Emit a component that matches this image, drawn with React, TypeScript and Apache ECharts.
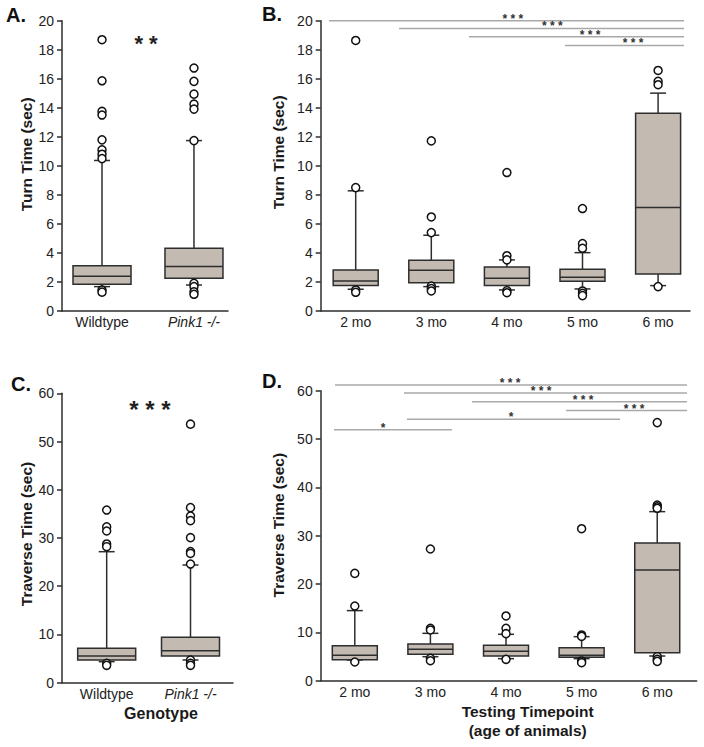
import React, { useEffect, useRef } from 'react';
import * as echarts from 'echarts';

const FONT = '"Liberation Sans", Arial, Helvetica, sans-serif';

const genotypeCategories = ['Wildtype', 'Pink1 -/-'];
const ageCategories = ['2 mo', '3 mo', '4 mo', '5 mo', '6 mo'];

// [lower whisker, Q1, median, Q3, upper whisker]
const turnGenotypeBoxes = [
  [1.68, 1.84, 2.39, 3.12, 10.37],
  [1.79, 2.25, 3.06, 4.32, 11.74],
];
const turnGenotypeOutliers = [
  [18.69, 15.86, 13.75, 13.5, 11.79, 11.1, 10.8, 10.5, 1.45, 1.3],
  [16.74, 15.82, 14.94, 14.25, 13.91, 11.74, 1.91, 1.68, 1.33, 1.15],
];

const turnAgeBoxes = [
  [1.5, 1.75, 2.07, 2.83, 8.28],
  [1.68, 1.95, 2.81, 3.5, 5.22],
  [1.45, 1.75, 2.25, 3.03, 3.52],
  [1.52, 2.05, 2.32, 2.87, 4.02],
  [1.75, 2.55, 7.13, 13.63, 15.01],
];
const turnAgeOutliers = [
  [18.64, 8.5, 1.45, 1.29],
  [11.72, 6.48, 5.4, 1.72, 1.54, 1.38],
  [9.54, 3.81, 3.52, 1.4, 1.26],
  [7.06, 4.64, 4.32, 1.38, 1.22, 1.06],
  [16.57, 15.82, 15.59, 1.68],
];

const traverseGenotypeBoxes = [
  [4.36, 4.71, 5.54, 7.13, 27.16],
  [4.71, 5.54, 6.64, 9.41, 24.4],
];
const traverseGenotypeOutliers = [
  [35.8, 32.3, 31.45, 28.76, 28.2, 4.02, 3.6],
  [53.6, 36.3, 34.56, 33.6, 30.07, 27.2, 26.8, 24.6, 4.7, 4.0, 3.6],
];

const traverseAgeBoxes = [
  [4.28, 4.35, 5.25, 7.24, 14.5],
  [4.97, 5.46, 6.5, 7.59, 9.8],
  [4.56, 5.11, 6.08, 7.32, 9.6],
  [4.56, 4.83, 5.25, 6.83, 9.11],
  [5.11, 5.8, 22.9, 28.49, 34.98],
];
const traverseAgeOutliers = [
  [22.2, 15.45, 3.87],
  [27.25, 10.84, 10.49, 4.63, 4.14],
  [13.39, 10.84, 9.73, 4.42],
  [31.45, 9.46, 9.18, 4.08, 3.73],
  [53.4, 36.35, 36.0, 35.67, 4.97, 4.42, 4.0],
];

// significance brackets: [from, to, y, star position]
const turnAgeSig = [
  [-0.353, 4.342, 20.0, 2.08],
  [0.573, 4.342, 19.47, 2.6],
  [1.499, 4.342, 18.9, 3.1],
  [2.768, 4.342, 18.3, 3.67],
];
const turnAgeSigLabels = ['* * *', '* * *', '* * *', '* * *'];

const traverseAgeSig = [
  [-0.262, 4.394, 61.2, 2.053],
  [0.651, 4.394, 59.5, 2.463],
  [1.55, 4.394, 57.7, 3.019],
  [2.794, 4.394, 55.9, 3.693],
  [0.69, 3.508, 54.1, 2.066],
  [-0.275, 1.284, 51.9, 0.373],
];
const traverseAgeSigLabels = ['* * *', '* * *', '* * *', '* * *', '*', '*'];

const BOX_FILL = '#c3bab2';
const DARK = '#2e2e2e';

function boxRender(boxW: number) {
  return (params: any, api: any) => {
    const x = api.value(0);
    const lo = api.coord([x, api.value(1)]);
    const q1 = api.coord([x, api.value(2)]);
    const med = api.coord([x, api.value(3)]);
    const q3 = api.coord([x, api.value(4)]);
    const hi = api.coord([x, api.value(5)]);
    const cx = lo[0];
    const h = boxW / 2;
    const cap = 8;
    const ls = { stroke: DARK, lineWidth: 1.5 };
    return {
      type: 'group',
      children: [
        { type: 'line', shape: { x1: cx, y1: hi[1], x2: cx, y2: q3[1] }, style: ls },
        { type: 'line', shape: { x1: cx, y1: q1[1], x2: cx, y2: lo[1] }, style: ls },
        { type: 'line', shape: { x1: cx - cap, y1: hi[1], x2: cx + cap, y2: hi[1] }, style: ls },
        { type: 'line', shape: { x1: cx - cap, y1: lo[1], x2: cx + cap, y2: lo[1] }, style: ls },
        {
          type: 'rect',
          shape: { x: cx - h, y: q3[1], width: boxW, height: q1[1] - q3[1] },
          style: { fill: BOX_FILL, stroke: DARK, lineWidth: 1.5 },
        },
        { type: 'line', shape: { x1: cx - h, y1: med[1], x2: cx + h, y2: med[1] }, style: ls },
      ],
    };
  };
}

function sigRender(labels: string[]) {
  return (params: any, api: any) => {
    const y = api.value(2);
    const a = api.coord([api.value(0), y]);
    const b = api.coord([api.value(1), y]);
    const s = api.coord([api.value(3), y]);
    return {
      type: 'group',
      children: [
        {
          type: 'line',
          shape: { x1: a[0], y1: a[1], x2: b[0], y2: b[1] },
          style: { stroke: '#a9a9a9', lineWidth: 1.5 },
        },
        {
          type: 'text',
          x: s[0],
          y: a[1] - 2,
          style: {
            text: labels[params.dataIndex],
            fill: '#333',
            font: `bold 12px ${FONT}`,
            align: 'center',
            verticalAlign: 'middle',
          },
        },
      ],
    };
  };
}

function xAxisFor(gridIndex: number, cats: string[], min: number, max: number, name: string, namePad: number) {
  return {
    type: 'value',
    gridIndex,
    min,
    max,
    name,
    nameLocation: 'middle',
    nameGap: 21,
    nameTextStyle: {
      fontFamily: FONT,
      fontSize: name.startsWith('Testing') ? 15.5 : 16,
      fontWeight: 'bold',
      color: '#1a1a1a',
      lineHeight: 19,
      padding: [0, 0, 0, namePad],
    },
    axisLine: { show: true, onZero: false, lineStyle: { color: DARK, width: 1.5 } },
    axisTick: { show: false },
    splitLine: { show: false },
    axisLabel: {
      customValues: cats.map((_, i) => i),
      formatter: (v: number) => {
        const c = cats[Math.round(v)];
        return c.startsWith('Pink1') ? `{i|${c}}` : c;
      },
      fontFamily: FONT,
      fontSize: 14,
      color: '#222',
      margin: 4,
      rich: { i: { fontStyle: 'italic', fontFamily: FONT, fontSize: 14, color: '#222' } },
    },
  };
}

function yAxisFor(gridIndex: number, max: number, interval: number, name: string, gap: number, pad: number, size: number) {
  return {
    type: 'value',
    gridIndex,
    min: 0,
    max,
    interval,
    name,
    nameLocation: 'middle',
    nameGap: gap,
    nameTextStyle: {
      fontFamily: FONT,
      fontSize: size,
      fontWeight: 'bold',
      color: '#1a1a1a',
      padding: [0, 0, 0, pad],
    },
    axisLine: { show: true, onZero: false, lineStyle: { color: DARK, width: 1.5 } },
    axisTick: { show: true, length: 5, lineStyle: { color: DARK, width: 1.5 } },
    splitLine: { show: false },
    axisLabel: { fontFamily: FONT, fontSize: 14, color: '#222', margin: 8 },
  };
}

function boxSeries(axisIndex: number, boxes: number[][], boxW: number) {
  return {
    type: 'custom',
    xAxisIndex: axisIndex,
    yAxisIndex: axisIndex,
    renderItem: boxRender(boxW),
    encode: { x: 0, y: [1, 2, 3, 4, 5] },
    data: boxes.map((b, i) => [i, ...b]),
    z: 2,
  };
}

function outlierSeries(axisIndex: number, outliers: number[][]) {
  return {
    type: 'scatter',
    xAxisIndex: axisIndex,
    yAxisIndex: axisIndex,
    symbol: 'circle',
    symbolSize: 8,
    itemStyle: { color: '#fff', borderColor: '#111', borderWidth: 1.5, opacity: 1 },
    data: outliers.flatMap((arr, i) => arr.map((v) => [i, v])),
    z: 5,
  };
}

function sigSeries(axisIndex: number, sig: number[][], labels: string[]) {
  return {
    type: 'custom',
    xAxisIndex: axisIndex,
    yAxisIndex: axisIndex,
    renderItem: sigRender(labels),
    encode: { x: [0, 1], y: 2 },
    clip: false,
    data: sig,
    z: 3,
  };
}

function panelLabel(text: string, x: number, y: number) {
  return {
    type: 'text',
    x,
    y,
    style: { text, font: `bold 20px ${FONT}`, fill: '#111', align: 'left', verticalAlign: 'middle' },
  };
}

const option: any = {
  animation: false,
  backgroundColor: '#fff',
  grid: [
    { left: 62, top: 20.7, width: 166, height: 290.3 },
    { left: 320.7, top: 20.7, width: 369.3, height: 290.3 },
    { left: 62, top: 393.3, width: 171, height: 289.4 },
    { left: 320.7, top: 390.7, width: 376, height: 290 },
  ],
  xAxis: [
    xAxisFor(0, genotypeCategories, -0.435, 1.37, '', 0),
    xAxisFor(1, ageCategories, -0.463, 4.422, '', 0),
    xAxisFor(2, genotypeCategories, -0.533, 1.507, 'Genotype', 27),
    xAxisFor(3, ageCategories, -0.451, 4.522, 'Testing Timepoint\n(age of animals)', 38),
  ],
  yAxis: [
    yAxisFor(0, 20, 2, 'Turn Time (sec)', 22, 23, 15.5),
    yAxisFor(1, 20, 2, 'Turn Time (sec)', 26, 27, 15.5),
    yAxisFor(2, 60, 10, 'Traverse Time (sec)', 22, 8, 15.5),
    yAxisFor(3, 60, 10, 'Traverse Time (sec)', 26, 21, 15.5),
  ],
  series: [
    boxSeries(0, turnGenotypeBoxes, 58),
    outlierSeries(0, turnGenotypeOutliers),
    boxSeries(1, turnAgeBoxes, 45),
    outlierSeries(1, turnAgeOutliers),
    sigSeries(1, turnAgeSig, turnAgeSigLabels),
    boxSeries(2, traverseGenotypeBoxes, 58),
    outlierSeries(2, traverseGenotypeOutliers),
    boxSeries(3, traverseAgeBoxes, 45),
    outlierSeries(3, traverseAgeOutliers),
    sigSeries(3, traverseAgeSig, traverseAgeSigLabels),
  ],
  graphic: [
    panelLabel('A.', 6, 15),
    panelLabel('B.', 262, 14),
    panelLabel('C.', 11, 384),
    panelLabel('D.', 262, 381),
    {
      type: 'text',
      x: 146,
      y: 43,
      style: { text: '* *', font: `bold 22px ${FONT}`, fill: '#222', align: 'center', verticalAlign: 'middle' },
    },
    {
      type: 'text',
      x: 150,
      y: 409,
      style: { text: '* * *', font: `bold 24px ${FONT}`, fill: '#222', align: 'center', verticalAlign: 'middle' },
    },
  ],
};

export default function App() {
  const ref = useRef<HTMLDivElement>(null);
  useEffect(() => {
    const chart = echarts.init(ref.current!, null, { renderer: 'svg' });
    chart.setOption(option);
    return () => chart.dispose();
  }, []);
  return (
    <div
      ref={ref}
      style={{ position: 'fixed', left: 0, top: 0, width: 704, height: 747, background: '#fff' }}
    />
  );
}
